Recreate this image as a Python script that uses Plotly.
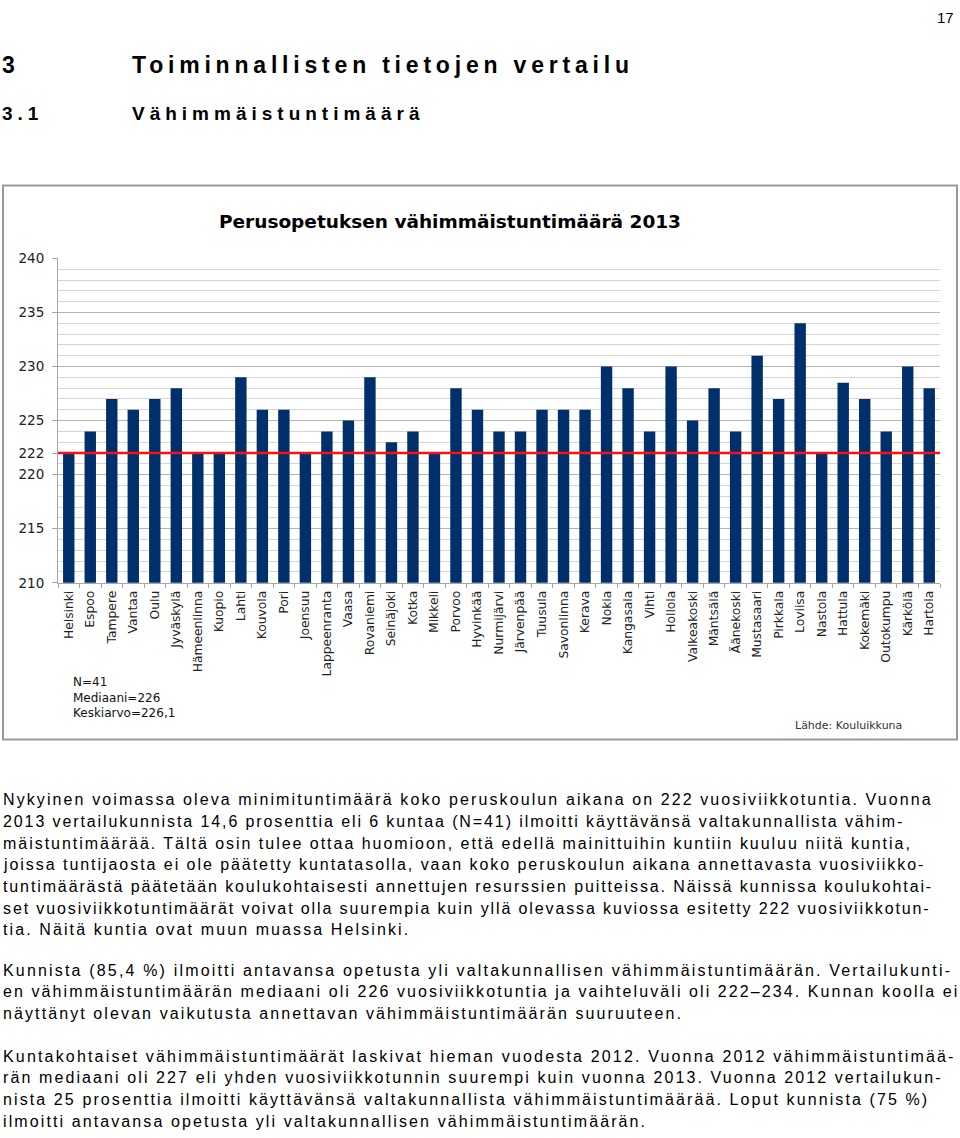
import plotly.graph_objects as go

# ---------------- data ----------------
municipalities = ["Helsinki", "Espoo", "Tampere", "Vantaa", "Oulu", "Jyväskylä", "Hämeenlinna",
                  "Kuopio", "Lahti", "Kouvola", "Pori", "Joensuu", "Lappeenranta", "Vaasa",
                  "Rovaniemi", "Seinäjoki", "Kotka", "Mikkeli", "Porvoo", "Hyvinkää",
                  "Nurmijärvi", "Järvenpää", "Tuusula", "Savonlinna", "Kerava", "Nokia",
                  "Kangasala", "Vihti", "Hollola", "Valkeakoski", "Mäntsälä", "Äänekoski",
                  "Mustasaari", "Pirkkala", "Loviisa", "Nastola", "Hattula", "Kokemäki",
                  "Outokumpu", "Kärkölä", "Hartola"]
hours = [222, 224, 227, 226, 227, 228, 222,
         222, 229, 226, 226, 222, 224, 225,
         229, 223, 224, 222, 228, 226,
         224, 224, 226, 226, 226, 230,
         228, 224, 230, 225, 228, 224,
         231, 227, 234, 222, 228.5, 227,
         224, 230, 228]
national_minimum = 222
y_tickvals = [210, 215, 220, 222, 225, 230, 235, 240]
y_range = [210, 240]

chart_title = "Perusopetuksen vähimmäistuntimäärä 2013"
stats_lines = ["N=41", "Mediaani=226", "Keskiarvo=226,1"]
source_text = "Lähde: Kouluikkuna"

page_number = "17"
heading1 = ("3", "Toiminnallisten tietojen vertailu")
heading2 = ("3.1", "Vähimmäistuntimäärä")

paragraph1 = [
    "Nykyinen voimassa oleva minimituntimäärä koko peruskoulun aikana on 222 vuosiviikkotuntia. Vuonna",
    "2013 vertailukunnista 14,6 prosenttia eli 6 kuntaa (N=41) ilmoitti käyttävänsä valtakunnallista vähim-",
    "mäistuntimäärää. Tältä osin tulee ottaa huomioon, että edellä mainittuihin kuntiin kuuluu niitä kuntia,",
    "joissa tuntijaosta ei ole päätetty kuntatasolla, vaan koko peruskoulun aikana annettavasta vuosiviikko-",
    "tuntimäärästä päätetään koulukohtaisesti annettujen resurssien puitteissa. Näissä kunnissa koulukohtai-",
    "set vuosiviikkotuntimäärät voivat olla suurempia kuin yllä olevassa kuviossa esitetty 222 vuosiviikkotun-",
    "tia. Näitä kuntia ovat muun muassa Helsinki.",
]
paragraph2 = [
    "Kunnista (85,4 %) ilmoitti antavansa opetusta yli valtakunnallisen vähimmäistuntimäärän. Vertailukunti-",
    "en vähimmäistuntimäärän mediaani oli 226 vuosiviikkotuntia ja vaihteluväli oli 222–234. Kunnan koolla ei",
    "näyttänyt olevan vaikutusta annettavan vähimmäistuntimäärän suuruuteen.",
]
paragraph3 = [
    "Kuntakohtaiset vähimmäistuntimäärät laskivat hieman vuodesta 2012. Vuonna 2012 vähimmäistuntimää-",
    "rän mediaani oli 227 eli yhden vuosiviikkotunnin suurempi kuin vuonna 2013. Vuonna 2012 vertailukun-",
    "nista 25 prosenttia ilmoitti käyttävänsä valtakunnallista vähimmäistuntimäärää. Loput kunnista (75 %)",
    "ilmoitti antavansa opetusta yli valtakunnallisen vähimmäistuntimäärän.",
]

# per-line letter spacing (text styling only, to mimic the justified page)
p1_spacing = [2.1, 1.9, 1.97, 1.95, 1.88, 1.88, 2.1]
p2_spacing = [2.17, 2.08, 2.1]
p3_spacing = [2.17, 2.1, 2.1, 2.1]

# ---------------- layout helpers ----------------
W, H = 960, 1138


def xp(px):
    return px / W


def yp(py):
    return 1 - py / H


BODY_FONT = "Liberation Sans, Arial, sans-serif"
CHART_FONT = "DejaVu Sans, Verdana, sans-serif"

fig = go.Figure()
fig.add_trace(go.Bar(
    x=municipalities, y=hours,
    marker=dict(color="#00306B", line=dict(width=0)),
    hoverinfo="x+y",
))

fig.update_layout(
    width=W, height=H,
    margin=dict(l=0, r=0, t=0, b=0),
    paper_bgcolor="white", plot_bgcolor="white",
    showlegend=False,
    bargap=0.47,
    xaxis=dict(
        domain=[xp(58), xp(940)],
        tickangle=-90,
        tickfont=dict(family=CHART_FONT, size=12.3, color="#222"),
        showline=True, linecolor="#a6a6a6", linewidth=1,
        ticks="outside", tickson="boundaries", ticklen=4, tickcolor="#a6a6a6",
        ticklabelstandoff=2,
        showgrid=False, fixedrange=True,
    ),
    yaxis=dict(
        domain=[yp(583), yp(254)],
        range=y_range,
        tickvals=y_tickvals,
        tickfont=dict(family=CHART_FONT, size=13.5, color="#222"),
        showline=True, linecolor="#a6a6a6", linewidth=1,
        ticks="outside", ticklen=5, tickcolor="#a6a6a6",
        ticklabelstandoff=5,
        showgrid=True, gridcolor="#b4b4b4", gridwidth=1,
        minor=dict(dtick=1, showgrid=True, gridcolor="#d6d6d6", gridwidth=1),
        zeroline=False, fixedrange=True,
    ),
)

shapes = [
    # chart frame
    dict(type="rect", xref="paper", yref="paper", x0=xp(3), x1=xp(957), y0=yp(742), y1=yp(180),
         line=dict(color="#9a9a9a", width=2), fillcolor="rgba(0,0,0,0)", layer="below"),
    # national minimum line
    dict(type="line", xref="x domain", yref="y", x0=0, x1=1, y0=national_minimum, y1=national_minimum,
         line=dict(color="#FF1010", width=2.5), layer="above"),
]
fig.update_layout(shapes=shapes)

ann = []


def add_text(text, x, y, size, family=BODY_FONT, bold=False, anchor="left", color="#000", spacing=None):
    t = text
    if spacing is not None:
        t = f'<span style="letter-spacing:{spacing}px">{t}</span>'
    if bold:
        t = f"<b>{t}</b>"
    ann.append(dict(text=t, x=xp(x), y=yp(y), xref="paper", yref="paper",
                    xanchor=anchor, yanchor="middle", showarrow=False,
                    font=dict(family=family, size=size, color=color)))


# page header
add_text(page_number, 956, 10, 15, family="Liberation Sans Narrow, Liberation Sans", anchor="right")
add_text(heading1[0], 0, 58, 23, bold=True)
add_text(heading1[1], 130, 58, 23, bold=True, spacing=4.8)
add_text(heading2[0], 0, 107, 19, bold=True, spacing=5.0)
add_text(heading2[1], 130, 107, 19, bold=True, spacing=5.0)

# chart texts
add_text(chart_title, 450, 217, 18.5, family=CHART_FONT, bold=True, anchor="center")
for i, line in enumerate(stats_lines):
    add_text(line, 71, 684 + i * 15.5, 12, family=CHART_FONT, color="#111")
add_text(source_text, 793, 728, 11, family=CHART_FONT, color="#333")

# body paragraphs
for i, line in enumerate(paragraph1):
    add_text(line, 1, 803 + i * 22, 16, spacing=p1_spacing[i])
for i, line in enumerate(paragraph2):
    add_text(line, 1, 976 + i * 22, 16, spacing=p2_spacing[i])
for i, line in enumerate(paragraph3):
    add_text(line, 1, 1063 + i * 22, 16, spacing=p3_spacing[i])

fig.update_layout(annotations=ann)

fig.write_html("out.html", config={"displayModeBar": False},
               post_script="document.body.style.margin='0';")
